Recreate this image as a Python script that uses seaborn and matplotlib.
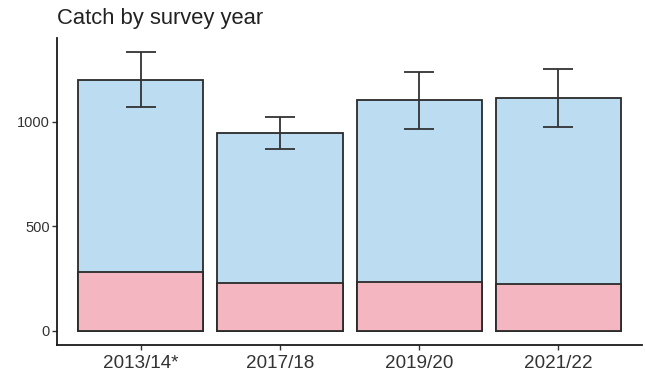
import matplotlib
matplotlib.use("Agg")
import matplotlib.pyplot as plt
import seaborn as sns
import pandas as pd
import numpy as np

# Survey catch data
years = ["2013/14*", "2017/18", "2019/20", "2021/22"]
total_catch = [1200, 947, 1102, 1113]
sub_catch = [283, 229, 235, 226]
ci_lower = [1068, 867, 967, 976]
ci_upper = [1332, 1021, 1237, 1253]

sns.set_theme(style="ticks")
plt.rcParams["font.family"] = ["Liberation Sans", "DejaVu Sans"]

df = pd.DataFrame({"year": years, "total": total_catch, "sub": sub_catch,
                   "lo": ci_lower, "hi": ci_upper})

fig, ax = plt.subplots(figsize=(6.45, 3.74), dpi=100)
fig.subplots_adjust(left=0.089, right=0.995, top=0.898, bottom=0.078)

edge = "#2a2a2a"
sns.barplot(data=df, x="year", y="total", color="#bcddf1", saturation=1,
            width=0.9, edgecolor=edge, linewidth=1.3, ax=ax, errorbar=None)
sns.barplot(data=df, x="year", y="sub", color="#f4b7c1", saturation=1,
            width=0.9, edgecolor=edge, linewidth=1.3, ax=ax, errorbar=None)

xpos = np.arange(len(years))
yerr = np.vstack([df["total"] - df["lo"], df["hi"] - df["total"]])
ax.errorbar(xpos, df["total"], yerr=yerr, fmt="none", ecolor="#333333",
            elinewidth=1.3, capsize=10.5, capthick=1.3, zorder=5)

ax.set_xlim(-0.6, 3.6)
ax.set_ylim(-66.6, 1399)
ax.set_yticks([0, 500, 1000])
ax.set_xlabel("")
ax.set_ylabel("")
ax.set_title("Catch by survey year", loc="left", fontsize=15.8, color="#222222",
             x=-0.0, pad=10)

for s in ["top", "right"]:
    ax.spines[s].set_visible(False)
for s in ["left", "bottom"]:
    ax.spines[s].set_linewidth(1.3)
    ax.spines[s].set_color("#1a1a1a")
ax.tick_params(axis="both", length=3.5, width=1.0, color="#333333",
               labelcolor="#333333", pad=2)
ax.tick_params(axis="y", labelsize=10.5)
ax.tick_params(axis="x", labelsize=13.6, pad=4)

fig.savefig("out.png", dpi=100)
